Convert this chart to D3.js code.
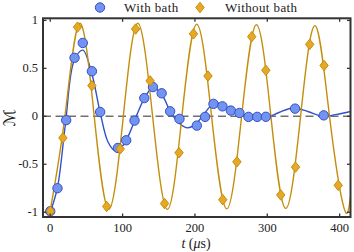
<!DOCTYPE html>
<html>
<head>
<meta charset="utf-8">
<script src="https://cdn.jsdelivr.net/npm/d3@7"></script>
<style>
  body { margin: 0; background: #fff; }
  svg { display: block; font-family: 'Liberation Serif', 'Times New Roman', serif; }
</style>
</head>
<body>
<svg id="chart" width="354" height="252"></svg>
<script>
// measured points, with bath
const bathT = [0, 10, 22, 33.6, 45, 57.6, 69, 93.5, 105, 116.5, 130, 142, 154, 165.7, 178.6, 202.6, 214, 225.6, 238, 249.6, 261.5, 274, 286, 298, 338.4, 378]
const bathM = [-0.99, -0.75, -0.04, 0.61, 0.765, 0.47, 0.045, -0.33, -0.25, -0.045, 0.19, 0.305, 0.24, 0.052, -0.027, -0.097, -0.006, 0.13, 0.104, 0.06, 0.035, -0.006, -0.006, -0.005, 0.08, 0.01]

// measured points, without bath
const noBathT = [0, 17.5, 37.7, 57.6, 78, 96.7, 118, 138, 158, 178, 198, 218, 238.5, 258, 278.5, 298, 318.6, 339, 358.6, 378.5, 398]
const noBathM = [-0.99, -0.225, 0.93, 0.32, -0.94, -0.34, 0.91, 0.37, -0.91, -0.38, 0.86, 0.42, -0.87, -0.475, 0.83, 0.48, -0.82, -0.53, 0.75, 0.53, -0.72]

// fitted curves, knots
const bathFitT = [0, 10, 21, 33, 45, 57, 69, 80, 90, 100, 110, 120, 131, 142, 154, 166, 178, 189, 200, 212, 227, 238, 250, 262, 275, 297, 316, 336, 356, 377, 396, 415]
const bathFitM = [-1.0, -0.74, -0.08, 0.58, 0.69, 0.46, 0.04, -0.27, -0.36, -0.31, -0.17, 0.02, 0.2, 0.3, 0.23, 0.05, -0.07, -0.12, -0.09, 0.02, 0.14, 0.12, 0.07, 0.03, 0.0, -0.017, 0.04, 0.087, 0.05, 0.0, 0.02, 0.05]

const noBathFitT = [0, 20.3, 40.6, 60.8, 81, 101, 121, 141.5, 162, 182, 202.5, 223, 244, 264.5, 285, 305, 325.5, 346, 366, 386, 406, 415]
const noBathFitM = [-0.98, 0, 0.97, 0, -0.97, 0, 0.97, 0, -0.97, 0, 0.96, 0, -0.965, 0, 0.955, 0, -0.96, 0, 0.945, 0, -0.955, -0.84]

const xTicks = [0, 100, 200, 300, 400]
const yTicks = [-1, -0.5, 0, 0.5, 1]
const yTickLabels = ['-1', '-0.5', '0', '0.5', '1']

const blue = '#3350c8'
const blueFill = '#7393f0'
const gold = '#c48e0c'
const goldFill = '#e6a825'

const mLeft = 43, mRight = 350.5, mTop = 18.3, mBottom = 217

const x = d3.scaleLinear().domain([-10, 415]).range([mLeft, mRight])
const y = d3.scaleLinear().domain([-1.05, 1.022]).range([mBottom, mTop])

const svg = d3.select('#chart')

svg.append('defs').append('clipPath').attr('id', 'clip')
  .append('rect')
  .attr('x', mLeft).attr('y', mTop)
  .attr('width', mRight - mLeft).attr('height', mBottom - mTop)

const plot = svg.append('g').attr('clip-path', 'url(#clip)')

// zero line
plot.append('line')
  .attr('x1', mLeft).attr('x2', mRight)
  .attr('y1', y(0)).attr('y2', y(0))
  .attr('stroke', '#707070')
  .attr('stroke-width', 1.5)
  .attr('stroke-dasharray', '8,4.5')

const line = d3.line()
  .x(d => x(d[0]))
  .y(d => y(d[1]))

plot.append('path')
  .datum(bathFitT.map((t, i) => [t, bathFitM[i]]))
  .attr('d', line.curve(d3.curveCatmullRom.alpha(0.5)))
  .attr('fill', 'none')
  .attr('stroke', blue)
  .attr('stroke-width', 1.4)

plot.append('path')
  .datum(noBathFitT.map((t, i) => [t, noBathFitM[i]]))
  .attr('d', line.curve(d3.curveNatural))
  .attr('fill', 'none')
  .attr('stroke', gold)
  .attr('stroke-width', 1.4)

// circles
plot.selectAll('circle.bath')
  .data(bathT.map((t, i) => [t, bathM[i]]))
  .enter().append('circle')
  .attr('class', 'bath')
  .attr('cx', d => x(d[0]))
  .attr('cy', d => y(d[1]))
  .attr('r', 4.7)
  .attr('fill', blueFill)
  .attr('stroke', blue)
  .attr('stroke-width', 1)

// diamonds
const diamond = 'M0,-5.2L4.2,0L0,5.2L-4.2,0Z'
plot.selectAll('path.nobath')
  .data(noBathT.map((t, i) => [t, noBathM[i]]))
  .enter().append('path')
  .attr('class', 'nobath')
  .attr('d', diamond)
  .attr('transform', d => `translate(${x(d[0])},${y(d[1])})`)
  .attr('fill', goldFill)
  .attr('stroke', gold)
  .attr('stroke-width', 1)

// frame and inward ticks
const frame = svg.append('g').attr('stroke', '#333')
frame.append('rect')
  .attr('x', mLeft).attr('y', mTop)
  .attr('width', mRight - mLeft).attr('height', mBottom - mTop)
  .attr('fill', 'none')
  .attr('stroke-width', 2)

xTicks.forEach(t => {
  frame.append('line').attr('x1', x(t)).attr('x2', x(t)).attr('y1', mBottom).attr('y2', mBottom - 3.5).attr('stroke-width', 1.3)
  frame.append('line').attr('x1', x(t)).attr('x2', x(t)).attr('y1', mTop).attr('y2', mTop + 3.5).attr('stroke-width', 1.3)
})
yTicks.forEach(v => {
  frame.append('line').attr('x1', mLeft).attr('x2', mLeft + 3.5).attr('y1', y(v)).attr('y2', y(v)).attr('stroke-width', 1.3)
  frame.append('line').attr('x1', mRight).attr('x2', mRight - 3.5).attr('y1', y(v)).attr('y2', y(v)).attr('stroke-width', 1.3)
})

// tick labels
svg.selectAll('text.xt')
  .data(xTicks)
  .enter().append('text')
  .attr('class', 'xt')
  .attr('x', d => x(d))
  .attr('y', 232)
  .attr('text-anchor', 'middle')
  .attr('font-size', 12.5)
  .attr('fill', '#222')
  .text(d => d)

svg.selectAll('text.yt')
  .data(yTicks)
  .enter().append('text')
  .attr('class', 'yt')
  .attr('x', 38)
  .attr('y', d => y(d) + 4)
  .attr('text-anchor', 'end')
  .attr('font-size', 12.5)
  .attr('fill', '#222')
  .text((d, i) => yTickLabels[i])

// axis labels
const xl = svg.append('text')
  .attr('x', 196).attr('y', 248)
  .attr('text-anchor', 'middle')
  .attr('font-size', 14)
  .attr('fill', '#222')
xl.append('tspan').attr('font-style', 'italic').text('t')
xl.append('tspan').text(' (')
xl.append('tspan').attr('font-style', 'italic').text('μ')
xl.append('tspan').text('s)')

svg.append('text')
  .attr('transform', 'translate(15,118) rotate(-90)')
  .attr('text-anchor', 'middle')
  .attr('font-family', "'DejaVu Sans', sans-serif")
  .attr('font-size', 16)
  .attr('fill', '#222')
  .text('ℳ')

// legend
const legend = svg.append('g')
legend.append('circle')
  .attr('cx', 100).attr('cy', 7.5).attr('r', 4.7)
  .attr('fill', blueFill).attr('stroke', blue)
legend.append('text')
  .attr('x', 124).attr('y', 11.5)
  .attr('font-size', 13).attr('letter-spacing', 0.4).attr('fill', '#222')
  .text('With bath')
legend.append('path')
  .attr('d', diamond)
  .attr('transform', 'translate(200,7.5)')
  .attr('fill', goldFill).attr('stroke', gold)
legend.append('text')
  .attr('x', 225).attr('y', 11.5)
  .attr('font-size', 13).attr('letter-spacing', 0.4).attr('fill', '#222')
  .text('Without bath')
</script>
</body>
</html>
